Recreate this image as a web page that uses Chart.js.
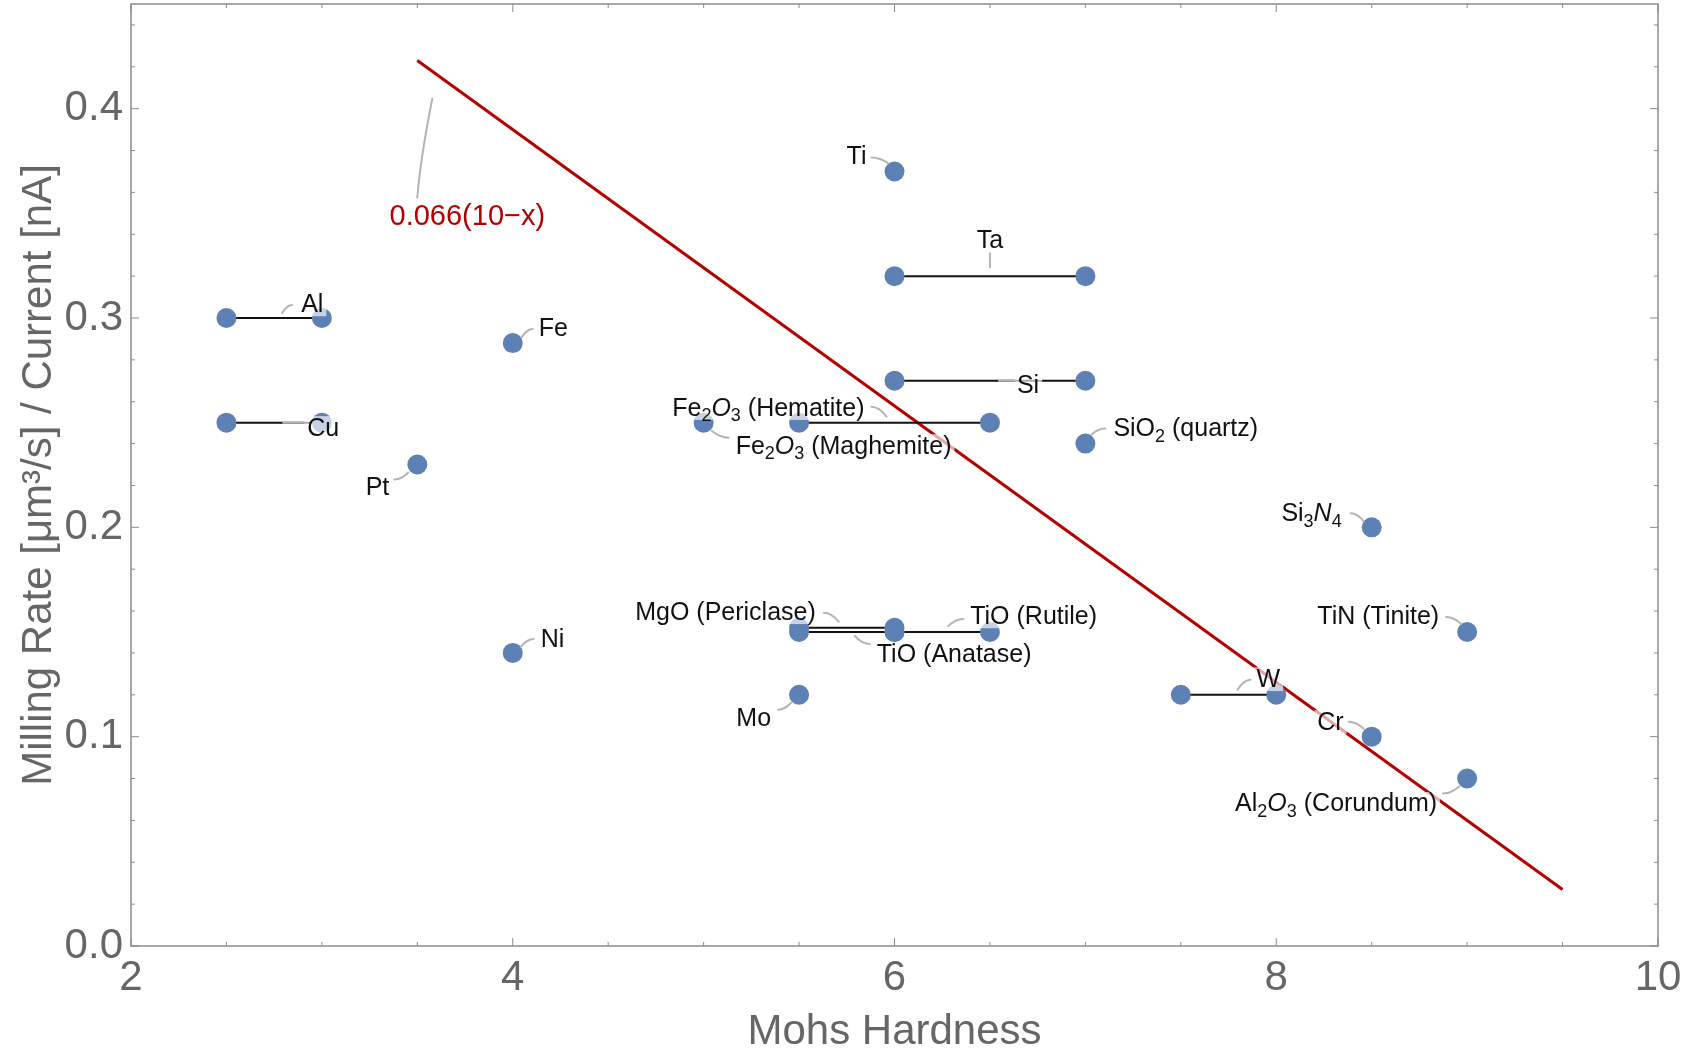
<!DOCTYPE html>
<html>
<head>
<meta charset="utf-8">
<title>Milling rate vs Mohs hardness</title>
<script src="https://cdn.jsdelivr.net/npm/chart.js@4.4.1/dist/chart.umd.min.js"></script>
<style>
  html, body { margin: 0; padding: 0; background: #fff; }
  #chart { display: block; }
</style>
</head>
<body>
<canvas id="chart" width="1683" height="1048"></canvas>
<script>
// material names (_{..} = subscript, *{..} = italic)
const materials = [
    'Al', 'Cu', 'Fe', 'Pt', 'Ni', 'Ti', 'Ta', 'Si',
    'Fe_{2}*{O}_{3} (Hematite)', 'Fe_{2}*{O}_{3} (Maghemite)', 'SiO_{2} (quartz)',
    'Si_{3}*{N}_{4}', 'TiN (Tinite)', 'MgO (Periclase)', 'TiO (Anatase)', 'TiO (Rutile)',
    'Mo', 'W', 'Cr', 'Al_{2}*{O}_{3} (Corundum)'
];
const hardnessLow  = [2.5, 2.5, 4, 3.5, 4, 6, 6, 6, 5.5, 5, 7, 8.5, 9, 5.5, 5.5, 6, 5.5, 7.5, 8.5, 9];
const hardnessHigh = [3,   3,   4, 3.5, 4, 6, 7, 7, 6.5, 5, 7, 8.5, 9, 6,   6,   6.5, 5.5, 8, 8.5, 9];
const millingRate  = [0.30, 0.25, 0.288, 0.23, 0.14, 0.37, 0.32, 0.27, 0.25, 0.25, 0.24,
                      0.20, 0.15, 0.152, 0.150, 0.150, 0.12, 0.12, 0.10, 0.08];

const fitX = [3.5, 9.5];
const fitY = [0.423, 0.027];
const fitLabel = '0.066(10\u2212x)';

const xTicks = [2, 4, 6, 8, 10];
const yTicks = [0, 0.1, 0.2, 0.3, 0.4];

// callout placement in px relative to the anchor (point or middle of range):
// leader start, leader end, text x (edge given by align), text centre y
const callouts = [
    [8, -5, 18, -13, 27, -13, 'left'],
    [9, 0, 30, 0, 33, 6, 'left'],
    [9, -6, 20, -14, 26, -14, 'left'],
    [-9, 8, -23, 15, -28, 24, 'right'],
    [8, -6, 21, -14, 28, -13, 'left'],
    [-6, -8, -23, -14, -28, -14, 'right'],
    [0, -9, 0, -23, 0, -35, 'center'],
    [9, 0, 25, 0, 27, 5, 'left'],
    [-8, -6, -23, -16, -30, -14, 'right'],
    [8, 8, 25, 15, 32, 24, 'left'],
    [6, -9, 20, -15, 28, -14, 'left'],
    [-8, -6, -21, -14, -30, -13, 'right'],
    [-6, -8, -21, -15, -28, -15, 'right'],
    [-8, -6, -23, -15, -31, -15, 'right'],
    [8, 4, 23, 12, 30, 23, 'left'],
    [6, -6, 21, -13, 28, -15, 'left'],
    [-8, 8, -21, 15, -28, 24, 'right'],
    [9, -5, 22, -15, 28, -15, 'left'],
    [-8, -8, -23, -15, -28, -14, 'right'],
    [-8, 8, -24, 15, -30, 26, 'right']
];

const FONT = '"Liberation Sans", Arial, sans-serif';
const AXIS_GREY = '#666666';
const FRAME_GREY = '#8c8c8c';
const POINT_BLUE = '#5e81b5';
const FIT_RED = '#b30000';
const LABEL_SIZE = 25;
const FIT_SIZE = 29;

function parseRich(str) {
    const segs = [];
    let buf = '';
    let i = 0;
    while (i < str.length) {
        const c = str[i];
        if ((c === '_' || c === '*') && str[i + 1] === '{') {
            if (buf) { segs.push({ t: buf, sub: false, it: false }); buf = ''; }
            const end = str.indexOf('}', i);
            segs.push({ t: str.slice(i + 2, end), sub: c === '_', it: c === '*' });
            i = end + 1;
        } else {
            buf += c;
            i++;
        }
    }
    if (buf) segs.push({ t: buf, sub: false, it: false });
    return segs;
}

function segFont(seg, size) {
    const s = seg.sub ? Math.round(size * 0.7) : size;
    return (seg.it ? 'italic ' : '') + s + 'px ' + FONT;
}

function measureRich(ctx, segs, size) {
    let w = 0;
    segs.forEach(seg => {
        ctx.font = segFont(seg, size);
        w += ctx.measureText(seg.t).width;
    });
    return w;
}

function drawRich(ctx, segs, size, x, y, color) {
    ctx.fillStyle = color;
    ctx.textBaseline = 'middle';
    ctx.textAlign = 'left';
    segs.forEach(seg => {
        ctx.font = segFont(seg, size);
        ctx.fillText(seg.t, x, seg.sub ? y + size * 0.3 : y);
        x += ctx.measureText(seg.t).width;
    });
}

function leader(ctx, x0, y0, x1, y1, cx, cy) {
    ctx.beginPath();
    ctx.moveTo(x0, y0);
    ctx.quadraticCurveTo(cx, cy, x1, y1);
    ctx.stroke();
}

const framePlugin = {
    id: 'frame',
    beforeDatasetsDraw(chart) {
        const { ctx, chartArea: a, scales: { x, y } } = chart;
        ctx.save();
        ctx.strokeStyle = FRAME_GREY;
        ctx.lineWidth = 1.5;
        ctx.strokeRect(a.left, a.top, a.right - a.left, a.bottom - a.top);
        ctx.lineWidth = 1;
        ctx.beginPath();
        for (let v = 2; v <= 10.001; v += 0.5) {
            const px = x.getPixelForValue(v);
            const len = xTicks.includes(v) ? 8 : 4;
            ctx.moveTo(px, a.bottom); ctx.lineTo(px, a.bottom - len);
            ctx.moveTo(px, a.top); ctx.lineTo(px, a.top + len);
        }
        for (let k = 0; k <= 22; k++) {
            const v = k * 0.02;
            const py = y.getPixelForValue(v);
            const len = k % 5 === 0 ? 8 : 4;
            ctx.moveTo(a.left, py); ctx.lineTo(a.left + len, py);
            ctx.moveTo(a.right, py); ctx.lineTo(a.right - len, py);
        }
        ctx.stroke();
        ctx.restore();
    }
};

const calloutPlugin = {
    id: 'callouts',
    afterDatasetsDraw(chart) {
        const { ctx, scales: { x, y } } = chart;
        const size = LABEL_SIZE;
        const items = materials.map((name, i) => {
            const ax = x.getPixelForValue((hardnessLow[i] + hardnessHigh[i]) / 2);
            const ay = y.getPixelForValue(millingRate[i]);
            const c = callouts[i];
            const segs = parseRich(name);
            const w = measureRich(ctx, segs, size);
            let left = ax + c[4];
            if (c[6] === 'right') left -= w;
            if (c[6] === 'center') left -= w / 2;
            return { ax, ay, c, segs, w, left, ty: ay + c[5] };
        });

        ctx.save();
        // translucent label backgrounds
        ctx.fillStyle = 'rgba(255,255,255,0.65)';
        items.forEach(it => {
            ctx.fillRect(it.left - 3, it.ty - size * 0.5, it.w + 6, size * 0.95);
        });

        // fit label
        const fx = x.getPixelForValue(fitX[0]);
        const fy = y.getPixelForValue(fitY[0]);
        ctx.font = FIT_SIZE + 'px ' + FONT;
        const fw = ctx.measureText(fitLabel).width;
        ctx.fillRect(fx + 50 - fw / 2 - 3, fy + 156 - 16, fw + 6, 30);

        // leaders
        ctx.strokeStyle = '#b4b4b4';
        ctx.lineWidth = 2;
        ctx.lineCap = 'round';
        items.forEach(it => {
            const c = it.c;
            const x0 = it.ax + c[0], y0 = it.ay + c[1];
            const x1 = it.ax + c[2], y1 = it.ay + c[3];
            leader(ctx, x0, y0, x1, y1, x0 + (x1 - x0) * 0.5, y1);
        });
        leader(ctx, fx + 15, fy + 38, fx, fy + 137, fx + 3, fy + 99);

        // texts
        items.forEach(it => drawRich(ctx, it.segs, size, it.left, it.ty, '#111111'));
        ctx.font = FIT_SIZE + 'px ' + FONT;
        ctx.fillStyle = FIT_RED;
        ctx.textAlign = 'center';
        ctx.textBaseline = 'middle';
        ctx.fillText(fitLabel, fx + 50, fy + 156);
        ctx.restore();
    }
};

// datasets: endpoints as dots, ranges as black segments, fit as red line
const dots = [];
const rangeSets = [];
materials.forEach((m, i) => {
    dots.push({ x: hardnessLow[i], y: millingRate[i] });
    if (hardnessHigh[i] !== hardnessLow[i]) {
        dots.push({ x: hardnessHigh[i], y: millingRate[i] });
        rangeSets.push({
            data: [{ x: hardnessLow[i], y: millingRate[i] }, { x: hardnessHigh[i], y: millingRate[i] }],
            showLine: true,
            borderColor: '#111111',
            borderWidth: 2,
            pointRadius: 0,
            order: 1
        });
    }
});

const ctx = document.getElementById('chart').getContext('2d');
new Chart(ctx, {
    type: 'scatter',
    data: {
        datasets: [
            {
                data: dots,
                pointRadius: 10,
                pointHoverRadius: 10,
                pointBackgroundColor: POINT_BLUE,
                pointBorderWidth: 0,
                order: 0
            },
            ...rangeSets,
            {
                data: fitX.map((v, i) => ({ x: v, y: fitY[i] })),
                showLine: true,
                borderColor: FIT_RED,
                borderWidth: 3,
                pointRadius: 0,
                order: 2
            }
        ]
    },
    options: {
        responsive: false,
        devicePixelRatio: 1,
        animation: false,
        events: [],
        layout: { autoPadding: false, padding: { top: 4, right: 25, left: 0, bottom: 0 } },
        plugins: {
            legend: { display: false },
            tooltip: { enabled: false }
        },
        scales: {
            x: {
                type: 'linear',
                min: 2,
                max: 10,
                afterBuildTicks: s => { s.ticks = xTicks.map(v => ({ value: v })); },
                afterFit: s => { s.height = 102; s.paddingLeft = 0; s.paddingRight = 0; },
                grid: { display: false, drawTicks: false },
                border: { display: false },
                ticks: {
                    color: AXIS_GREY,
                    font: { family: FONT, size: 42 },
                    padding: 7,
                    maxRotation: 0,
                    autoSkip: false
                },
                title: {
                    display: true,
                    text: 'Mohs Hardness',
                    color: AXIS_GREY,
                    font: { family: FONT, size: 42, lineHeight: 0.76 },
                    padding: { top: 0, bottom: 0 }
                }
            },
            y: {
                type: 'linear',
                min: 0,
                max: 0.45,
                afterBuildTicks: s => { s.ticks = yTicks.map(v => ({ value: v })); },
                afterFit: s => { s.width = 131; s.paddingTop = 0; s.paddingBottom = 0; },
                grid: { display: false, drawTicks: false },
                border: { display: false },
                ticks: {
                    color: AXIS_GREY,
                    font: { family: FONT, size: 42 },
                    padding: 8,
                    callback: v => v.toFixed(1)
                },
                title: {
                    display: true,
                    text: 'Milling Rate [\u03bcm\u00b3/s] / Current [nA]',
                    color: AXIS_GREY,
                    font: { family: FONT, size: 42, lineHeight: 1 },
                    padding: { top: 18, bottom: 0 }
                }
            }
        }
    },
    plugins: [framePlugin, calloutPlugin]
});
</script>
</body>
</html>
